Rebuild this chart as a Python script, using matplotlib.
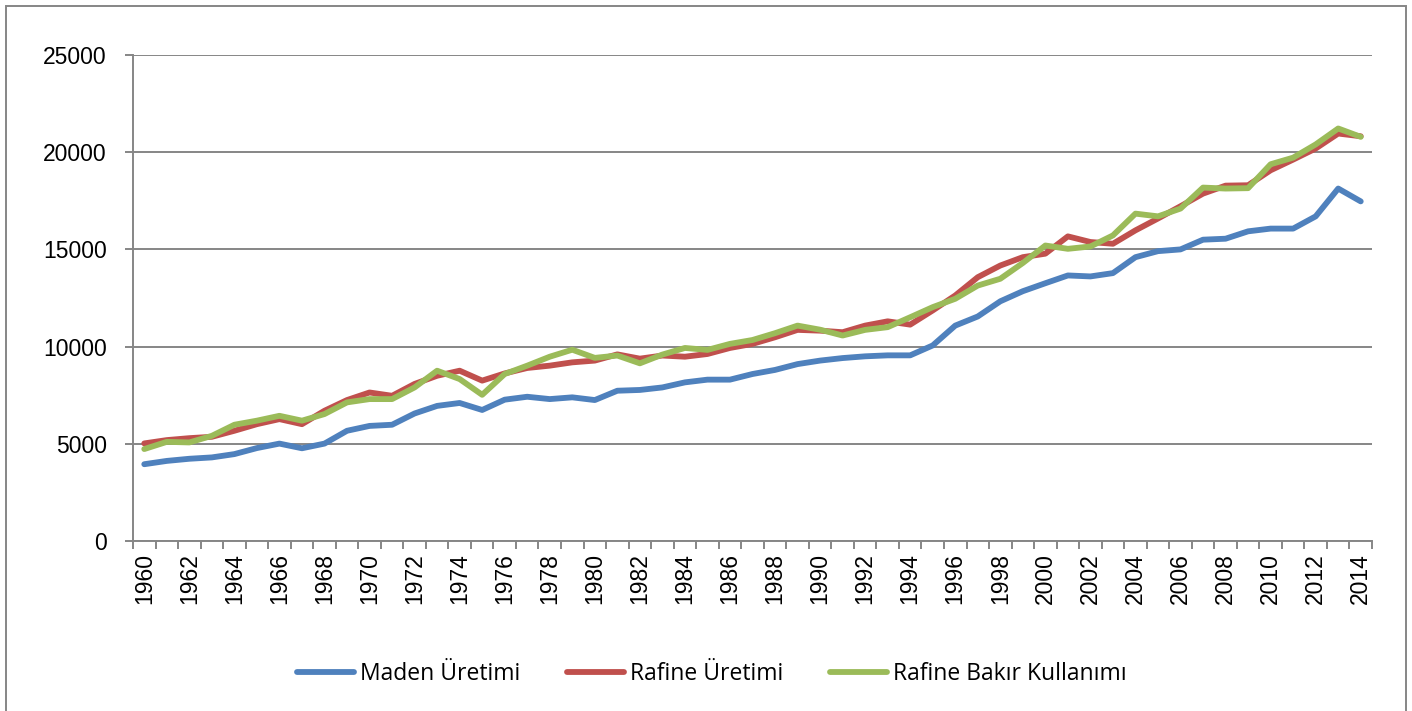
import matplotlib.pyplot as plt
from matplotlib.patches import Rectangle

years = list(range(1960, 2015))

# bin ton
maden = [3950, 4120, 4230, 4300, 4470, 4780, 5010, 4770, 5010, 5670, 5920,
         5980, 6560, 6950, 7100, 6740, 7270, 7420, 7300, 7390, 7250, 7730,
         7770, 7900, 8160, 8300, 8300, 8590, 8800, 9100, 9280, 9410, 9500,
         9550, 9550, 10060, 11080, 11550, 12330, 12850, 13260, 13660, 13610,
         13780, 14600, 14910, 15000, 15500, 15550, 15930, 16070, 16070,
         16700, 18130, 17470]

rafine_uretim = [5020, 5190, 5290, 5360, 5670, 6010, 6270, 6010, 6700, 7250,
                 7640, 7470, 8080, 8500, 8760, 8250, 8620, 8900, 9020, 9190,
                 9280, 9600, 9380, 9540, 9480, 9620, 9930, 10140, 10480,
                 10860, 10820, 10740, 11080, 11300, 11130, 11860, 12630,
                 13570, 14170, 14600, 14780, 15670, 15380, 15290, 15980,
                 16590, 17220, 17870, 18280, 18300, 19070, 19620, 20190,
                 20960, 20820]

rafine_kullanim = [4730, 5100, 5070, 5410, 5980, 6190, 6440, 6190, 6530, 7130,
                   7300, 7300, 7900, 8760, 8330, 7520, 8590, 9020, 9480, 9840,
                   9420, 9540, 9140, 9590, 9930, 9830, 10140, 10340, 10690,
                   11080, 10870, 10570, 10860, 11000, 11510, 12030, 12460,
                   13140, 13490, 14300, 15200, 15030, 15150, 15720, 16840,
                   16700, 17100, 18180, 18130, 18150, 19380, 19720, 20400,
                   21220, 20790]

etiketler = ['Maden Üretimi', 'Rafine Üretimi', 'Rafine Bakır Kullanımı']
renkler = ['#4F81BD', '#C0504D', '#9BBB59']
gri = '#868686'

fig = plt.figure(figsize=(14.12, 7.11), dpi=100)
ax = fig.add_axes([133 / 1412, 1 - 541 / 711, 1239 / 1412, 486 / 711])

for seri, ad, renk in zip([maden, rafine_uretim, rafine_kullanim], etiketler, renkler):
    ax.plot(years, seri, color=renk, lw=4.2, label=ad, solid_joinstyle='round',
            solid_capstyle='round')

ax.set_xlim(1959.5, 2014.5)
ax.set_ylim(0, 25000)
ax.set_yticks(range(0, 25001, 5000))
ax.yaxis.grid(True, color=gri, lw=1.4)
ax.set_axisbelow(True)

ax.set_xticks(years[::2])
ax.set_xticklabels([str(y) for y in years[::2]], rotation=90)
ax.set_xticks([y - 0.5 for y in years] + [2014.5], minor=True)
ax.tick_params(axis='x', which='major', length=0, pad=9, labelsize=16.5,
               colors='black')
ax.tick_params(axis='x', which='minor', length=6, width=1.4, color=gri,
               direction='out')
ax.tick_params(axis='y', length=6, width=1.4, color=gri, pad=13,
               labelsize=16.5)
for lab in ax.get_xticklabels() + ax.get_yticklabels():
    lab.set_family(['Liberation Sans', 'DejaVu Sans'])

for s in ['top', 'right']:
    ax.spines[s].set_visible(False)
for s in ['left', 'bottom']:
    ax.spines[s].set_color(gri)
    ax.spines[s].set_linewidth(1.4)

fig.legend(loc='center', bbox_to_anchor=(0.504, 1 - 674 / 711), ncol=3,
           frameon=False, handlelength=2.5, handletextpad=0.25,
           columnspacing=2.05,
           prop={'family': ['Liberation Sans Narrow', 'Open Sans'], 'size': 16.5})

fig.patches.append(Rectangle((6 / 1412, -0.01), 1400 / 1412, 1.0058 - 3 / 711,
                             transform=fig.transFigure, fill=False,
                             edgecolor=gri, lw=1.4))

fig.savefig('out.png', dpi=100)
